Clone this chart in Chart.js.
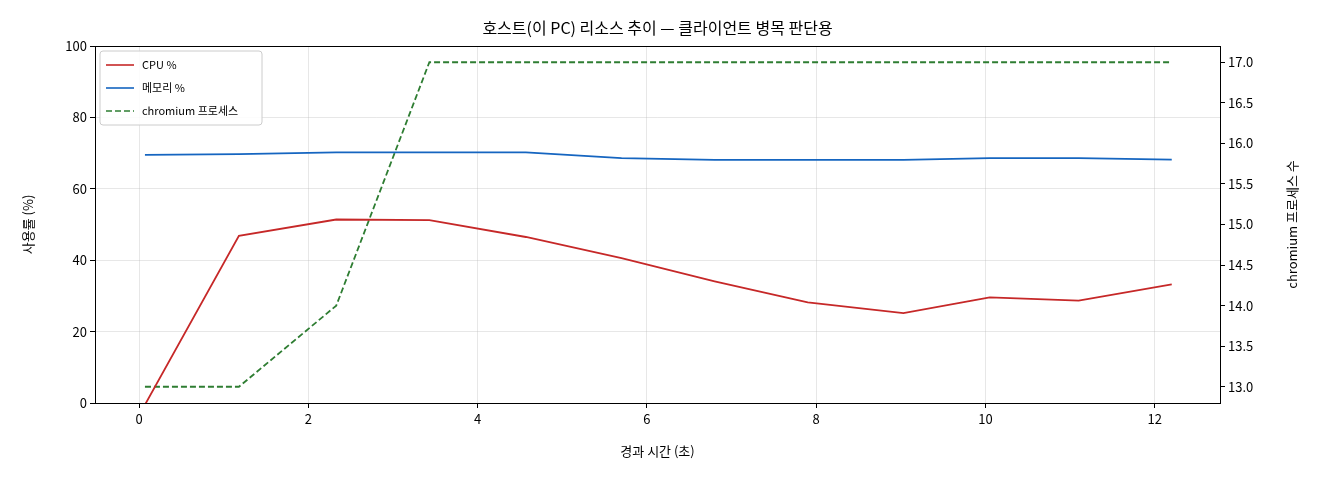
<!DOCTYPE html>
<html><head><meta charset="utf-8">
<script src="https://cdn.jsdelivr.net/npm/chart.js@4/dist/chart.umd.min.js"></script>
<style>html,body{margin:0;padding:0;background:#fff}#w{width:1320px;height:480px}</style>
</head><body><div id="w"><canvas id="c"></canvas></div>
<script>
const titleText = '호스트(이 PC) 리소스 추이 — 클라이언트 병목 판단용';
const elapsed = [0.07, 1.18, 2.33, 3.43, 4.57, 5.70, 6.80, 7.90, 9.03, 10.05, 11.10, 12.20];
const cpu = [-0.5, 46.8, 51.4, 51.2, 46.5, 40.6, 34.1, 28.2, 25.2, 29.6, 28.7, 33.2];
const mem = [69.5, 69.7, 70.2, 70.2, 70.2, 68.6, 68.1, 68.1, 68.1, 68.6, 68.6, 68.2];
const chromium = [13, 13, 14, 17, 17, 17, 17, 17, 17, 17, 17, 17];
const labels = ['CPU %', '메모리 %', 'chromium 프로세스'];
const xTitle = '경과 시간 (초)', yTitle = '사용률 (%)', y2Title = 'chromium 프로세스 수';

const F = '"Noto Sans CJK KR", "DejaVu Sans", sans-serif';
const pts = a => a.map((v,i)=>({x:elapsed[i], y:v}));
const grid = {color:'rgba(176,176,176,0.3)', tickColor:'#000', tickLength:5, drawTicks:true};
const tick = {color:'#000', font:{family:F,size:13}};

const overlay = {
  id:'overlay',
  afterDraw(ch){
    const c = ch.ctx, a = ch.chartArea;
    c.save();
    c.fillStyle='#000'; c.font='16px '+F; c.textAlign='center'; c.textBaseline='middle';
    c.fillText(titleText, (a.left+a.right)/2, 28);
    c.font='13px '+F;
    const cy=(a.top+a.bottom)/2;
    c.fillText(xTitle, (a.left+a.right)/2, 451);
    c.save(); c.translate(28, cy); c.rotate(-Math.PI/2); c.fillText(yTitle,0,0); c.restore();
    c.save(); c.translate(1292, cy); c.rotate(-Math.PI/2); c.fillText(y2Title,0,0); c.restore();
    c.strokeStyle='#000'; c.lineWidth=1;
    c.strokeRect(a.left+0.5, a.top+0.5, a.right-a.left, a.bottom-a.top);
    // legend
    const lx=a.left+5, ly=a.top+5, w=162, h=74;
    c.fillStyle='rgba(255,255,255,0.85)'; c.strokeStyle='#ccc';
    c.beginPath(); c.roundRect(lx,ly,w,h,3); c.fill(); c.stroke();
    c.font='11px '+F; c.textAlign='left';
    ch.data.datasets.forEach((d,i)=>{
      const y=ly+14+i*23;
      c.strokeStyle=d.borderColor; c.lineWidth=1.6; c.setLineDash(d.borderDash||[]);
      c.beginPath(); c.moveTo(lx+6,y); c.lineTo(lx+34,y); c.stroke(); c.setLineDash([]);
      c.fillStyle='#000'; c.fillText(d.label, lx+42, y);
    });
    c.restore();
  }
};

new Chart(document.getElementById('c'), {
  type:'line',
  data:{datasets:[
    {label:labels[0], data:pts(cpu), borderColor:'#c62828', yAxisID:'y', borderWidth:1.8},
    {label:labels[1], data:pts(mem), borderColor:'#1565c0', yAxisID:'y', borderWidth:1.8},
    {label:labels[2], data:pts(chromium), borderColor:'#2e7d32', borderDash:[6,3], yAxisID:'y2', borderWidth:1.8}
  ]},
  options:{
    responsive:true, maintainAspectRatio:false, animation:false,
    elements:{point:{radius:0}, line:{tension:0}},
    layout:{padding:{top:46}},
    plugins:{legend:{display:false}, tooltip:{enabled:false}},
    scales:{
      x:{type:'linear', min:-0.52, max:12.77, border:{display:false},
         afterBuildTicks(s){s.ticks=[0,2,4,6,8,10,12].map(v=>({value:v}));},
         grid, ticks:tick, afterFit(s){s.height=77;}},
      y:{position:'left', min:0, max:100, border:{display:false},
         ticks:{...tick, stepSize:20}, grid, afterFit(s){s.width=95;}},
      y2:{position:'right', min:12.8, max:17.2, border:{display:false},
         afterBuildTicks(s){s.ticks=[13,13.5,14,14.5,15,15.5,16,16.5,17].map(v=>({value:v}));},
         ticks:{...tick, callback:v=>v.toFixed(1)},
         grid:{drawOnChartArea:false, tickColor:'#000', tickLength:5},
         afterFit(s){s.width=100;}}
    }
  },
  plugins:[overlay]
});
</script></body></html>
